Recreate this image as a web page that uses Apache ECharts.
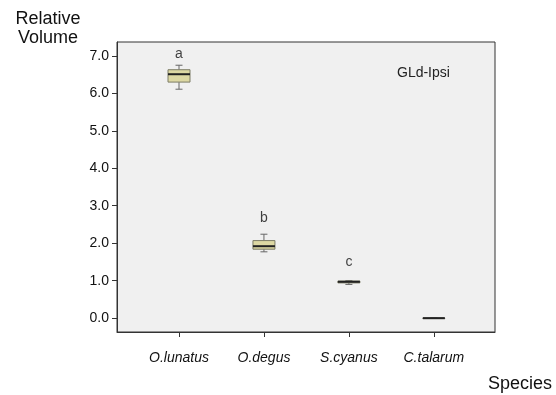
<!DOCTYPE html>
<html>
<head>
    <meta charset="utf-8">
    <title>GLd-Ipsi relative volume</title>
    <script src="https://cdn.jsdelivr.net/npm/echarts@6/dist/echarts.min.js"></script>
    <style>
        html, body { margin: 0; padding: 0; background: #fff; }
    </style>
</head>
<body>
    <div id="chart" style="width: 556px; height: 395px;"></div>

    <script>
        // species on the x axis (positions 1..4)
        const species = ['O.lunatus', 'O.degus', 'S.cyanus', 'C.talarum'];
        // [min, Q1, median, Q3, max]
        const boxStats = [
            [6.11, 6.30, 6.51, 6.63, 6.75],
            [1.77, 1.84, 1.92, 2.07, 2.24],
            [0.90, 0.94, 0.97, 0.99, 1.00],
            [0.00, 0.00, 0.00, 0.00, 0.00]
        ];
        // significance letters and their heights
        const letters = ['a', 'b', 'c', ''];
        const letterY = [7.05, 2.67, 1.5, 0];
        const yTicks = [0, 1, 2, 3, 4, 5, 6, 7];

        const boxData = boxStats.map((s, i) => [i + 1].concat(s));
        const letterData = letters.map((l, i) => [i + 1, letterY[i], l]);

        const chart = echarts.init(document.getElementById('chart'));

        const font = '"Liberation Sans", Arial, sans-serif';

        const option = {
            animation: false,
            textStyle: { fontFamily: font },
            title: [
                {
                    text: 'GLd-Ipsi',
                    left: 392, top: 61,
                    textStyle: { fontSize: 14, fontWeight: 'normal', color: '#222', fontFamily: font }
                },
                {
                    text: 'Relative\nVolume',
                    left: 43, top: 5, textAlign: 'center',
                    textStyle: { fontSize: 18, fontWeight: 'normal', color: '#111', lineHeight: 19, fontFamily: font }
                },
                {
                    text: 'Species',
                    left: 483, top: 370,
                    textStyle: { fontSize: 18, fontWeight: 'normal', color: '#111', fontFamily: font }
                }
            ],
            grid: {
                left: 117, right: 61, top: 42, bottom: 63,
                show: true,
                backgroundColor: '#f0f0f0',
                borderColor: '#333',
                borderWidth: 1
            },
            xAxis: {
                type: 'value',
                min: 0.27, max: 4.72,
                splitLine: { show: false },
                axisLine: { show: true, onZero: false, lineStyle: { color: '#333' } },
                axisTick: { show: true, length: 5, customValues: [1, 2, 3, 4], lineStyle: { color: '#333' } },
                axisLabel: {
                    customValues: [1, 2, 3, 4],
                    formatter: v => species[Math.round(v) - 1],
                    fontStyle: 'italic', fontSize: 14, color: '#111', margin: 19,
                    fontFamily: font
                }
            },
            yAxis: {
                type: 'value',
                min: -0.37, max: 7.37,
                splitLine: { show: false },
                axisLine: { show: true, onZero: false, lineStyle: { color: '#333' } },
                axisTick: { show: true, length: 5, customValues: yTicks, lineStyle: { color: '#333' } },
                axisLabel: {
                    customValues: yTicks,
                    formatter: v => v.toFixed(1),
                    fontSize: 14, color: '#111', margin: 8,
                    fontFamily: font
                }
            },
            series: [
                {
                    type: 'custom',
                    data: boxData,
                    renderItem: (params, api) => {
                        const x = api.value(0);
                        const pMin = api.coord([x, api.value(1)]);
                        const pQ1 = api.coord([x, api.value(2)]);
                        const pMed = api.coord([x, api.value(3)]);
                        const pQ3 = api.coord([x, api.value(4)]);
                        const pMax = api.coord([x, api.value(5)]);
                        const cx = pMed[0];
                        const hw = 11, cap = 3.5;
                        const wStyle = { stroke: '#666', lineWidth: 1 };
                        return {
                            type: 'group',
                            children: [
                                { type: 'line', shape: { x1: cx, y1: pMax[1], x2: cx, y2: pQ3[1] }, style: wStyle },
                                { type: 'line', shape: { x1: cx, y1: pMin[1], x2: cx, y2: pQ1[1] }, style: wStyle },
                                { type: 'line', shape: { x1: cx - cap, y1: pMax[1], x2: cx + cap, y2: pMax[1] }, style: wStyle },
                                { type: 'line', shape: { x1: cx - cap, y1: pMin[1], x2: cx + cap, y2: pMin[1] }, style: wStyle },
                                {
                                    type: 'rect',
                                    shape: { x: cx - hw, y: pQ3[1], width: hw * 2, height: Math.max(pQ1[1] - pQ3[1], 0.5) },
                                    style: { fill: '#ddd8a3', stroke: '#7c7c66', lineWidth: 1 }
                                },
                                { type: 'line', shape: { x1: cx - hw, y1: pMed[1], x2: cx + hw, y2: pMed[1] }, style: { stroke: '#222', lineWidth: 2 } }
                            ]
                        };
                    }
                },
                {
                    type: 'scatter',
                    data: letterData,
                    symbolSize: 0,
                    label: {
                        show: true,
                        position: 'inside',
                        formatter: p => p.data[2],
                        fontSize: 14, color: '#111', fontFamily: font
                    }
                }
            ]
        };

        chart.setOption(option);
    </script>
</body>
</html>
